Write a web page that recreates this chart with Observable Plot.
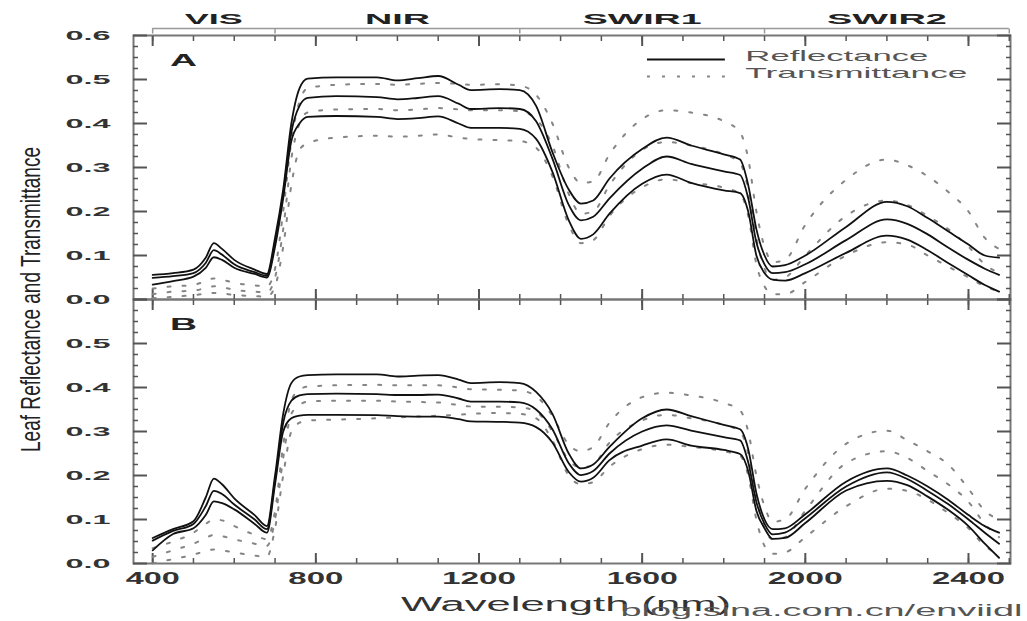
<!DOCTYPE html>
<html><head><meta charset="utf-8">
<script src="https://cdn.jsdelivr.net/npm/d3@7"></script>
<script src="https://cdn.jsdelivr.net/npm/@observablehq/plot@0.6"></script>
<style>body{margin:0;background:#fff;} #chart{width:1027px;height:621px;}</style>
</head><body><div id="chart"></div>
<script>
const wavelength = [400,450,500,530,550,570,600,650,680,700,720,740,760,780,850,950,1000,1050,1100,1150,1180,1250,1300,1340,1380,1420,1450,1480,1520,1600,1660,1720,1800,1840,1860,1880,1900,1920,1950,2000,2100,2200,2250,2300,2350,2400,2440,2475];

const reflA_hi = [0.056,0.060,0.068,0.095,0.128,0.115,0.090,0.068,0.058,0.14, 0.25,0.40,0.48,0.502,0.505,0.505,0.498,0.503,0.508,0.488, 0.476,0.478,0.476,0.440,0.335,0.25,0.218,0.225,0.275,0.342, 0.368,0.350,0.330,0.318,0.26,0.16,0.10,0.075,0.078,0.100, 0.165,0.222,0.212,0.185,0.155,0.125,0.100,0.095];
const reflA_mid = [0.049,0.053,0.060,0.083,0.112,0.102,0.080,0.062,0.054,0.13, 0.24,0.38,0.44,0.458,0.462,0.460,0.455,0.458,0.462,0.445, 0.433,0.435,0.433,0.405,0.32,0.215,0.180,0.188,0.230,0.297, 0.325,0.308,0.291,0.283,0.23,0.13,0.08,0.060,0.062,0.080, 0.135,0.182,0.172,0.148,0.118,0.090,0.070,0.056];
const reflA_lo = [0.034,0.042,0.052,0.072,0.096,0.090,0.072,0.058,0.050,0.12, 0.23,0.36,0.40,0.415,0.417,0.415,0.410,0.412,0.416,0.400, 0.390,0.390,0.388,0.365,0.29,0.18,0.138,0.148,0.195,0.263, 0.284,0.265,0.248,0.242,0.20,0.10,0.06,0.045,0.043,0.060, 0.106,0.145,0.136,0.112,0.083,0.055,0.033,0.018];
const transA_hi = [0.025,0.030,0.033,0.042,0.048,0.045,0.038,0.032,0.030,0.07, 0.20,0.36,0.45,0.48,0.488,0.490,0.488,0.490,0.492,0.490, 0.488,0.489,0.486,0.465,0.40,0.30,0.265,0.268,0.330,0.410, 0.430,0.425,0.405,0.380,0.32,0.20,0.12,0.085,0.090,0.170, 0.272,0.318,0.305,0.280,0.245,0.200,0.140,0.115];
const transA_mid = [0.012,0.018,0.020,0.026,0.030,0.028,0.022,0.018,0.016,0.05, 0.16,0.32,0.40,0.425,0.432,0.433,0.430,0.432,0.435,0.432, 0.430,0.430,0.428,0.410,0.35,0.24,0.195,0.200,0.260,0.340, 0.358,0.350,0.330,0.310,0.25,0.14,0.07,0.045,0.050,0.100, 0.190,0.225,0.215,0.190,0.160,0.120,0.080,0.060];
const transA_lo = [0.003,0.006,0.010,0.013,0.015,0.014,0.010,0.008,0.006,0.03, 0.12,0.26,0.34,0.355,0.368,0.372,0.370,0.372,0.375,0.368, 0.365,0.362,0.360,0.345,0.28,0.17,0.128,0.135,0.190,0.255, 0.273,0.265,0.254,0.240,0.19,0.08,0.03,0.012,0.012,0.040, 0.100,0.130,0.125,0.100,0.075,0.050,0.030,0.018];

const reflB_hi = [0.058,0.078,0.096,0.150,0.193,0.180,0.148,0.110,0.085,0.20, 0.34,0.41,0.425,0.428,0.430,0.430,0.425,0.427,0.428,0.418, 0.410,0.412,0.410,0.390,0.340,0.250,0.216,0.225,0.265,0.330, 0.350,0.335,0.315,0.305,0.26,0.16,0.10,0.078,0.080,0.112, 0.186,0.216,0.200,0.175,0.145,0.110,0.085,0.070];
const reflB_mid = [0.052,0.074,0.090,0.130,0.165,0.158,0.134,0.100,0.078,0.19, 0.32,0.37,0.382,0.385,0.386,0.385,0.383,0.383,0.384,0.375, 0.368,0.368,0.366,0.350,0.305,0.228,0.201,0.210,0.250,0.300, 0.314,0.302,0.287,0.280,0.23,0.14,0.09,0.066,0.070,0.103, 0.175,0.207,0.192,0.165,0.135,0.100,0.070,0.045];
const reflB_lo = [0.030,0.067,0.080,0.110,0.141,0.137,0.123,0.090,0.070,0.18, 0.30,0.33,0.336,0.338,0.338,0.337,0.335,0.334,0.334,0.328, 0.323,0.322,0.320,0.310,0.275,0.208,0.186,0.195,0.235,0.268, 0.282,0.268,0.258,0.249,0.21,0.12,0.08,0.056,0.058,0.092, 0.166,0.188,0.178,0.152,0.122,0.085,0.045,0.013];
const transB_hi = [0.035,0.050,0.070,0.090,0.100,0.098,0.085,0.065,0.055,0.12, 0.27,0.37,0.395,0.402,0.405,0.406,0.405,0.405,0.405,0.400, 0.396,0.395,0.393,0.380,0.335,0.270,0.255,0.265,0.320,0.378, 0.388,0.382,0.365,0.348,0.30,0.20,0.13,0.095,0.100,0.170, 0.272,0.302,0.280,0.255,0.225,0.170,0.120,0.100];
const transB_mid = [0.015,0.030,0.045,0.058,0.065,0.062,0.055,0.045,0.040,0.10, 0.24,0.34,0.360,0.368,0.370,0.370,0.368,0.367,0.366,0.360, 0.357,0.356,0.355,0.345,0.300,0.235,0.218,0.225,0.275,0.325, 0.338,0.330,0.315,0.300,0.25,0.15,0.08,0.055,0.060,0.120, 0.228,0.255,0.240,0.210,0.180,0.140,0.090,0.060];
const transB_lo = [0.000,0.010,0.020,0.028,0.032,0.030,0.025,0.018,0.015,0.08, 0.20,0.30,0.320,0.325,0.327,0.330,0.332,0.334,0.336,0.338, 0.340,0.342,0.340,0.330,0.280,0.200,0.180,0.185,0.220,0.260, 0.270,0.265,0.255,0.245,0.20,0.10,0.04,0.022,0.025,0.060, 0.130,0.170,0.165,0.145,0.115,0.080,0.040,0.020];

const panels = ["A", "B"];
const bandNames = ["VIS", "NIR", "SWIR1", "SWIR2"];
const bandEdges = [400, 700, 1300, 1900, 2500];
const xTickLabels = [400, 800, 1200, 1600, 2000, 2400];
const xMinorTicks = [400, 500, 600, 700, 800, 900, 1000, 1100, 1200, 1300, 1400, 1500, 1600, 1700, 1800, 1900, 2000, 2100, 2200, 2300, 2400, 2500];
const yTickLabelsA = [0, 0.1, 0.2, 0.3, 0.4, 0.5, 0.6];
const yTickLabelsB = [0, 0.1, 0.2, 0.3, 0.4, 0.5];
const yMinorTicks = [0.025, 0.05, 0.075, 0.125, 0.15, 0.175, 0.225, 0.25, 0.275, 0.325, 0.35, 0.375, 0.425, 0.45, 0.475, 0.525, 0.55, 0.575];
const legendLabels = ["Reflectance", "Transmittance"];
const xLabel = "Wavelength (nm)";
const yLabel = "Leaf Reflectance and Transmittance";
const watermark = "blog.sina.com.cn/enviidl";

// build tidy rows
const rows = [];
function addSeries(panel, kind, level, values) {
  values.forEach((v, i) => rows.push({panel, kind, series: panel + kind + level, wl: wavelength[i], v}));
}
addSeries("A", "R", "hi", reflA_hi); addSeries("A", "R", "mid", reflA_mid); addSeries("A", "R", "lo", reflA_lo);
addSeries("A", "T", "hi", transA_hi); addSeries("A", "T", "mid", transA_mid); addSeries("A", "T", "lo", transA_lo);
addSeries("B", "R", "hi", reflB_hi); addSeries("B", "R", "mid", reflB_mid); addSeries("B", "R", "lo", reflB_lo);
addSeries("B", "T", "hi", transB_hi); addSeries("B", "T", "mid", transB_mid); addSeries("B", "T", "lo", transB_lo);
const refl = rows.filter(d => d.kind === "R");
const trans = rows.filter(d => d.kind === "T");

const bandRows = bandNames.map((name, i) => ({panel: "A", name, center: (bandEdges[i] + bandEdges[i + 1]) / 2}));
const edgeRows = bandEdges.map(wl => ({panel: "A", wl}));
const legendRows = legendLabels.map((label, i) => ({panel: "A", label, i}));
const legend = {x1: 1613, x2: 1804, xText: 1853, yLine: [0.5456, 0.507], yText: [0.5524, 0.514]};

const W = 1027, H = 621, mL = 133, mR = 17, mT = 34, mB = 58;
const xDomain = [353, 2503], yDomain = [0, 0.6];
const minorLen = 5, majorLen = 10, majorLenY = 14;

const seg = (dx, dy) => ({draw(ctx) { ctx.moveTo(0, 0); ctx.lineTo(dx, dy); }});
const panelRows = panels.map(p => ({panel: p}));

const axisColor = "#777";
const tickColor = "#555";
const noText = () => "";
// axis tick marks drawn outward, then shifted back by their own length so they point into each panel
const tickAxes = [];
for (const [anchor, ticks, len, sw] of [["bottom", xMinorTicks, minorLen, 1.5], ["bottom", xTickLabels, majorLen, 2], ["top", xMinorTicks, minorLen, 1.5], ["top", xTickLabels, majorLen, 2]]) {
  tickAxes.push(Plot.axisX(ticks, {anchor, facetAnchor: null, tickSize: len, dy: anchor === "bottom" ? -len : len, tickFormat: noText, stroke: tickColor, strokeWidth: sw, label: null}));
}
for (const [anchor, ticks, len, sw] of [["left", yMinorTicks, minorLen, 1.5], ["left", yTickLabelsA, majorLenY, 2], ["right", yMinorTicks, minorLen, 1.5], ["right", yTickLabelsA, majorLenY, 2]]) {
  tickAxes.push(Plot.axisY(ticks, {anchor, facetAnchor: null, tickSize: len, dx: anchor === "left" ? len : -len, tickFormat: noText, stroke: tickColor, strokeWidth: sw, label: null}));
}

const chart = Plot.plot({
  width: W, height: H,
  marginTop: mT, marginBottom: mB, marginLeft: mL, marginRight: mR,
  x: {domain: xDomain},
  y: {domain: yDomain},
  fy: {domain: panels, padding: 0, axis: null},
  style: {fontFamily: "'Liberation Sans', Arial, sans-serif", background: "#fff", color: "#222"},
  marks: [
    Plot.frame({fill: "none", stroke: axisColor, strokeWidth: 2}),
    ...tickAxes,
    // tick labels
    Plot.axisY(yTickLabelsA, {anchor: "left", facetAnchor: "top", tickSize: 0, tickPadding: 23, tickFormat: ".1f", fontSize: 13, fontWeight: "bold", fill: "#333", label: null}),
    Plot.axisY(yTickLabelsB, {anchor: "left", facetAnchor: "bottom", tickSize: 0, tickPadding: 23, tickFormat: ".1f", fontSize: 13, fontWeight: "bold", fill: "#333", label: null}),
    Plot.axisX(xTickLabels, {anchor: "bottom", tickSize: 0, tickPadding: 9, tickFormat: d => String(d), fontSize: 16, fontWeight: "bold", fill: "#333", label: null}),
    // data
    Plot.line(trans, {x: "wl", y: "v", z: "series", fy: "panel", stroke: "#858585", strokeWidth: 2, strokeDasharray: "3,12", curve: "monotone-x"}),
    Plot.line(refl, {x: "wl", y: "v", z: "series", fy: "panel", stroke: "#111", strokeWidth: 1.8, curve: "monotone-x"}),
    // band bracket and labels
    Plot.ruleY(bandRows.slice(0, 1), {fy: "panel", y: () => yDomain[1], x1: () => bandEdges[0], x2: () => bandEdges[bandEdges.length - 1], dy: -7, stroke: "#999", strokeWidth: 1.5}),
    Plot.dot(edgeRows, {fy: "panel", x: "wl", y: () => yDomain[1], dy: -7, symbol: seg(0, 5), fill: "none", stroke: "#999", strokeWidth: 1.5}),
    Plot.text(bandRows, {fy: "panel", x: "center", y: () => yDomain[1], dy: -16.5, text: "name", fontSize: 15, fontWeight: "bold", fill: "#222", lineAnchor: "middle"}),
    // panel labels
    Plot.text(panelRows, {fy: "panel", frameAnchor: "top-left", dx: 50, dy: 25, text: "panel", fontSize: 16, fontWeight: "bold", fill: "#222", textAnchor: "middle", lineAnchor: "middle"}),
    // legend
    Plot.ruleY(legendRows.slice(0, 1), {fy: "panel", y: () => legend.yLine[0], x1: () => legend.x1, x2: () => legend.x2, stroke: "#111", strokeWidth: 2}),
    Plot.ruleY(legendRows.slice(1, 2), {fy: "panel", y: () => legend.yLine[1], x1: () => legend.x1, x2: () => legend.x2, stroke: "#858585", strokeWidth: 2, strokeDasharray: "3,12"}),
    Plot.text(legendRows, {fy: "panel", x: () => legend.xText, y: d => legend.yText[d.i], text: "label", textAnchor: "start", lineAnchor: "middle", fontSize: 14.5, fill: "#555"}),
    // axis titles & watermark
    Plot.text([{panel: "A"}], {fy: "panel", frameAnchor: "bottom-left", dx: -102, text: () => yLabel, rotate: -90, textAnchor: "middle", lineAnchor: "middle", fontSize: 28, fill: "#222"}),
    Plot.text([{panel: "B"}], {fy: "panel", frameAnchor: "bottom", dx: -6, dy: 41, text: () => xLabel, textAnchor: "middle", lineAnchor: "middle", fontSize: 20, fill: "#333"}),
    Plot.text([{panel: "B"}], {fy: "panel", frameAnchor: "bottom-right", dx: 12, dy: 47, text: () => watermark, textAnchor: "end", lineAnchor: "middle", fontSize: 16, fill: "#555"})
  ]
});

// stretch texts to match the reference's wide lettering
const widths = new Map([
  ["VIS", 58], ["NIR", 65], ["SWIR1", 119], ["SWIR2", 120], ["A", 27], ["B", 27],
  ["0.0", 45], ["0.1", 45], ["0.2", 45], ["0.3", 45], ["0.4", 45], ["0.5", 45], ["0.6", 45],
  ["400", 54], ["800", 55], ["1200", 74], ["1600", 71], ["2000", 75], ["2400", 73],
  ["Reflectance", 183], ["Transmittance", 222], [xLabel, 330], [watermark, 402], [yLabel, 305]
]);
chart.querySelectorAll("text").forEach(t => {
  const s = t.textContent;
  if (widths.has(s)) { t.setAttribute("textLength", widths.get(s)); t.setAttribute("lengthAdjust", "spacingAndGlyphs"); }
});
document.getElementById("chart").appendChild(chart);
</script>
</body></html>
